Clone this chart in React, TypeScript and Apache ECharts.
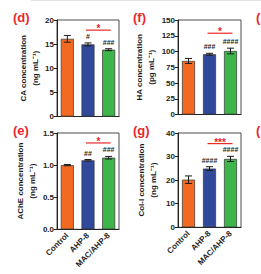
import React, { useEffect, useRef } from 'react';
import * as echarts from 'echarts';

const FONT = '"Liberation Sans", Arial, sans-serif';
const RED = '#E8272C';
const INK = '#1c1c1c';

const categories = ['Control', 'AHP-8', 'MAC/AHP-8'];
const barColors = ['#F26A21', '#30499B', '#3DB54A'];

// (d) CA
const caMean = [16.1, 14.95, 13.85];
const caErr = [0.7, 0.3, 0.2];
const caMarks = ['', '#', '###'];
const caSigLevel = 17.9;
const caSig = '*';
const caTicks = [0, 5, 10, 15, 20];

// (e) AChE
const acheMean = [1.0, 1.075, 1.115];
const acheErr = [0.01, 0.012, 0.02];
const acheMarks = ['', '##', '###'];
const acheSigLevel = 1.345;
const acheSig = '*';
const acheTicks = [0, 0.5, 1.0, 1.5];

// (f) HA
const haMean = [85, 95.6, 100.8];
const haErr = [4, 1.5, 4.5];
const haMarks = ['', '###', '####'];
const haSigLevel = 129;
const haSig = '*';
const haTicks = [0, 25, 50, 75, 100, 125, 150];

// (g) Col-I
const colMean = [20.2, 24.9, 29.0];
const colErr = [1.6, 0.8, 1.1];
const colMarks = ['', '####', '####'];
const colSigLevel = 35.5;
const colSig = '***';
const colTicks = [0, 10, 20, 30, 40];

type Panel = {
  tag: string;
  tagPos: [number, number];
  grid: { left: number; top: number; width: number; height: number };
  ticks: number[];
  decimals: number;
  title: string;
  mean: number[];
  err: number[];
  marks: string[];
  sigLevel: number;
  sig: string;
  nameGap: number;
  showX: boolean;
};

const panels: Panel[] = [
  {
    tag: '(d)', tagPos: [13, 11],
    grid: { left: 57, top: 20, width: 62, height: 96.5 },
    ticks: caTicks, decimals: 0, title: 'CA concentration\n(ng mL⁻¹)',
    mean: caMean, err: caErr, marks: caMarks, sigLevel: caSigLevel, sig: caSig,
    nameGap: 16, showX: false,
  },
  {
    tag: '(e)', tagPos: [13, 124],
    grid: { left: 57, top: 133, width: 62, height: 96.3 },
    ticks: acheTicks, decimals: 1, title: 'AChE concentration\n(ng mL⁻¹)',
    mean: acheMean, err: acheErr, marks: acheMarks, sigLevel: acheSigLevel, sig: acheSig,
    nameGap: 16, showX: true,
  },
  {
    tag: '(f)', tagPos: [133, 11],
    grid: { left: 178, top: 20, width: 63, height: 94.5 },
    ticks: haTicks, decimals: 0, title: 'HA concentration\n(pg mL⁻¹)',
    mean: haMean, err: haErr, marks: haMarks, sigLevel: haSigLevel, sig: haSig,
    nameGap: 20, showX: false,
  },
  {
    tag: '(g)', tagPos: [133, 124],
    grid: { left: 178, top: 133, width: 63, height: 94.3 },
    ticks: colTicks, decimals: 0, title: 'Col-I concentration\n(ng mL⁻¹)',
    mean: colMean, err: colErr, marks: colMarks, sigLevel: colSigLevel, sig: colSig,
    nameGap: 19, showX: true,
  },
];

function buildOption() {
  const grid: any[] = [];
  const xAxis: any[] = [];
  const yAxis: any[] = [];
  const series: any[] = [];
  const graphic: any[] = [];

  panels.forEach((p, idx) => {
    const t = p.ticks;
    grid.push({
      ...p.grid,
      containLabel: false,
      show: true,
      borderColor: '#4a4a4a',
      borderWidth: 1,
      backgroundColor: 'transparent',
    });
    xAxis.push({
      type: 'category',
      gridIndex: idx,
      data: categories,
      axisLine: { lineStyle: { color: '#222', width: 1 } },
      axisTick: { alignWithLabel: true, length: 3, lineStyle: { color: '#222' } },
      axisLabel: {
        show: p.showX,
        rotate: 45,
        margin: 5,
        fontSize: 8,
        fontWeight: 'bold',
        fontFamily: FONT,
        color: INK,
        interval: 0,
      },
    });
    yAxis.push({
      type: 'value',
      gridIndex: idx,
      min: t[0],
      max: t[t.length - 1],
      interval: t[1] - t[0],
      splitLine: { show: false },
      axisLine: { show: true, lineStyle: { color: '#222', width: 1 } },
      axisTick: { show: true, length: 3, lineStyle: { color: '#222' } },
      axisLabel: {
        margin: 3,
        fontSize: 8,
        fontWeight: 'bold',
        fontFamily: FONT,
        color: INK,
        formatter: (v: number) => v.toFixed(p.decimals),
      },
      name: p.title,
      nameLocation: 'middle',
      nameRotate: 90,
      nameGap: p.nameGap,
      nameTextStyle: {
        fontSize: 8,
        fontWeight: 'bold',
        fontFamily: FONT,
        color: INK,
        lineHeight: 12,
      },
    });

    series.push({
      type: 'bar',
      xAxisIndex: idx,
      yAxisIndex: idx,
      barWidth: 13,
      data: p.mean.map((m, i) => ({
        value: m,
        itemStyle: { color: barColors[i], borderColor: '#333', borderWidth: 0.7 },
      })),
      z: 2,
    });

    const marks = p.marks;
    series.push({
      type: 'custom',
      xAxisIndex: idx,
      yAxisIndex: idx,
      z: 5,
      encode: { x: 0, y: 1 },
      data: p.mean.map((m, i) => [i, m, p.err[i]]),
      renderItem: (_params: any, api: any) => {
        const i = api.value(0);
        const m = api.value(1);
        const e = api.value(2);
        const hi = api.coord([i, m + e]);
        const lo = api.coord([i, m - e]);
        const cap = 3.5;
        const style = { stroke: INK, lineWidth: 1 };
        const children: any[] = [
          { type: 'line', shape: { x1: hi[0], y1: hi[1], x2: lo[0], y2: lo[1] }, style },
          { type: 'line', shape: { x1: hi[0] - cap, y1: hi[1], x2: hi[0] + cap, y2: hi[1] }, style },
          { type: 'line', shape: { x1: lo[0] - cap, y1: lo[1], x2: lo[0] + cap, y2: lo[1] }, style },
        ];
        if (marks[i]) {
          children.push({
            type: 'text',
            x: hi[0],
            y: hi[1] - 6.5,
            style: {
              text: marks[i],
              fill: INK,
              fontSize: 7,
              fontWeight: 'bold',
              fontFamily: FONT,
              align: 'center',
              verticalAlign: 'middle',
            },
          });
        }
        return { type: 'group', children };
      },
    });

    const sig = p.sig;
    series.push({
      type: 'custom',
      xAxisIndex: idx,
      yAxisIndex: idx,
      z: 6,
      encode: { x: 0, y: 2 },
      data: [[1, 2, p.sigLevel]],
      renderItem: (_params: any, api: any) => {
        const a = api.coord([api.value(0), api.value(2)]);
        const b = api.coord([api.value(1), api.value(2)]);
        return {
          type: 'group',
          children: [
            {
              type: 'line',
              shape: { x1: a[0] - 2, y1: a[1], x2: b[0] + 2, y2: b[1] },
              style: { stroke: RED, lineWidth: 1.2 },
            },
            {
              type: 'text',
              x: (a[0] + b[0]) / 2,
              y: a[1] - 1.5,
              style: {
                text: sig,
                fill: RED,
                fontSize: 10,
                fontWeight: 'bold',
                fontFamily: FONT,
                align: 'center',
                verticalAlign: 'middle',
              },
            },
          ],
        };
      },
    });

    graphic.push({
      type: 'text',
      left: p.tagPos[0],
      top: p.tagPos[1],
      style: {
        text: p.tag,
        fill: RED,
        fontSize: 13,
        fontWeight: 'bold',
        fontFamily: FONT,
      },
    });
  });

  // neighbouring panel labels cut off at the right edge
  graphic.push(
    { type: 'text', left: 256, top: 11, style: { text: '(', fill: RED, fontSize: 13, fontWeight: 'bold', fontFamily: FONT } },
    { type: 'text', left: 256, top: 124, style: { text: '(', fill: RED, fontSize: 13, fontWeight: 'bold', fontFamily: FONT } },
    { type: 'line', shape: { x1: 31, y1: 0.5, x2: 261, y2: 0.5 }, style: { stroke: '#e4e4e4', lineWidth: 1 } },
  );

  return {
    animation: false,
    backgroundColor: '#ffffff',
    grid,
    xAxis,
    yAxis,
    series,
    graphic,
  };
}

export default function App() {
  const ref = useRef<HTMLDivElement>(null);
  useEffect(() => {
    if (!ref.current) return;
    const chart = echarts.init(ref.current, undefined, { renderer: 'svg' });
    chart.setOption(buildOption() as any);
    return () => chart.dispose();
  }, []);
  return (
    <div
      ref={ref}
      style={{ position: 'fixed', left: 0, top: 0, width: 261, height: 274, background: '#fff' }}
    />
  );
}
